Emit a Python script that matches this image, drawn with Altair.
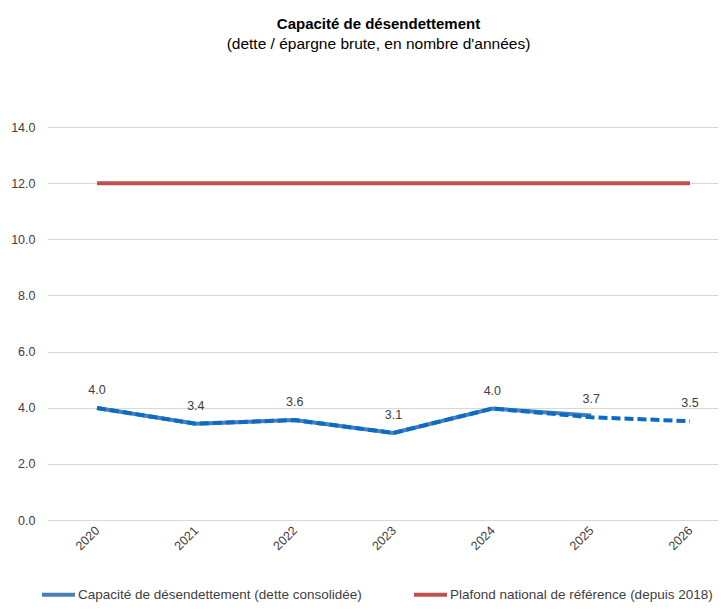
import altair as alt
import pandas as pd

years = [2020, 2021, 2022, 2023, 2024, 2025, 2026]
capacite_solid = [3.99, 3.43, 3.56, 3.10, 3.97, 3.72, None]
capacite_dashed = [3.99, 3.43, 3.56, 3.10, 3.97, 3.66, 3.52]
value_labels = ["4.0", "3.4", "3.6", "3.1", "4.0", "3.7", "3.5"]
plafond = [12, 12, 12, 12, 12, 12, 12]

name_cap = "Capacité de désendettement (dette consolidée)"
name_plaf = "Plafond national de référence (depuis 2018)"

FONT = "Liberation Sans"

rows = []
for y, v in zip(years, plafond):
    rows.append({"year": y, "value": v, "series": name_plaf})
for y, v in zip(years, capacite_solid):
    if v is not None:
        rows.append({"year": y, "value": v, "series": name_cap})
df_lines = pd.DataFrame(rows)
df_dash = pd.DataFrame({"year": years, "value": capacite_dashed, "label": value_labels})

x_scale = alt.Scale(domain=[2019.494, 2026.283], nice=False, zero=False)
y_scale = alt.Scale(domain=[0, 14], nice=False)

x_axis = alt.Axis(values=years, format="d", labelAngle=-45, labelAlign="right",
                  labelBaseline="middle", grid=False, domain=False, ticks=False,
                  labelPadding=8, labelFontSize=12.5, labelColor="#404040",
                  labelFont=FONT, title=None)
y_axis = alt.Axis(values=[0, 2, 4, 6, 8, 10, 12, 14], format=".1f", grid=True,
                  gridColor="#d9d9d9", gridWidth=1, domain=False, ticks=False,
                  labelPadding=12, labelFontSize=12.5, labelColor="#404040",
                  labelFont=FONT, title=None)

color_scale = alt.Scale(domain=[name_cap, name_plaf], range=["#4a7ebb", "#c0504d"])

lines = alt.Chart(df_lines).mark_line(strokeWidth=4, strokeCap="butt").encode(
    x=alt.X("year:Q", scale=x_scale, axis=x_axis),
    y=alt.Y("value:Q", scale=y_scale, axis=y_axis),
    color=alt.Color("series:N", scale=color_scale, sort=[name_cap, name_plaf],
                    legend=alt.Legend(orient="none", legendX=-7, legendY=449,
                                      direction="horizontal", title=None,
                                      symbolType="stroke", symbolStrokeWidth=4,
                                      symbolSize=1089, labelFontSize=13.5,
                                      labelFont=FONT, labelColor="#404040",
                                      columnPadding=44, labelOffset=1,
                                      labelLimit=400)),
    detail="series:N",
)

dashed = alt.Chart(df_dash).mark_line(strokeWidth=4, strokeDash=[9, 4], color="#0a6cc4").encode(
    x=alt.X("year:Q", scale=x_scale),
    y=alt.Y("value:Q", scale=y_scale),
)

texts = alt.Chart(df_dash).mark_text(dy=-18, fontSize=12.5, font=FONT, color="#404040").encode(
    x=alt.X("year:Q", scale=x_scale),
    y=alt.Y("value:Q", scale=y_scale),
    text="label:N",
)

chart = alt.layer(lines, dashed, texts).properties(
    width=671,
    height=393,
    autosize=alt.AutoSizeParams(type="none"),
    padding={"left": 39, "top": 119, "right": 0, "bottom": 82},
    title=alt.TitleParams(
        text="Capacité de désendettement",
        subtitle="(dette / épargne brute, en nombre d'années)",
        anchor="middle", frame="group", dx=-4, offset=69,
        font=FONT, fontSize=15, fontWeight="bold", color="#000000",
        subtitleFont=FONT, subtitleFontSize=15.5, subtitleColor="#000000",
        subtitlePadding=5,
    ),
).configure_view(stroke=None)

chart.save("out.html", embed_options={"renderer": "svg", "actions": False})
